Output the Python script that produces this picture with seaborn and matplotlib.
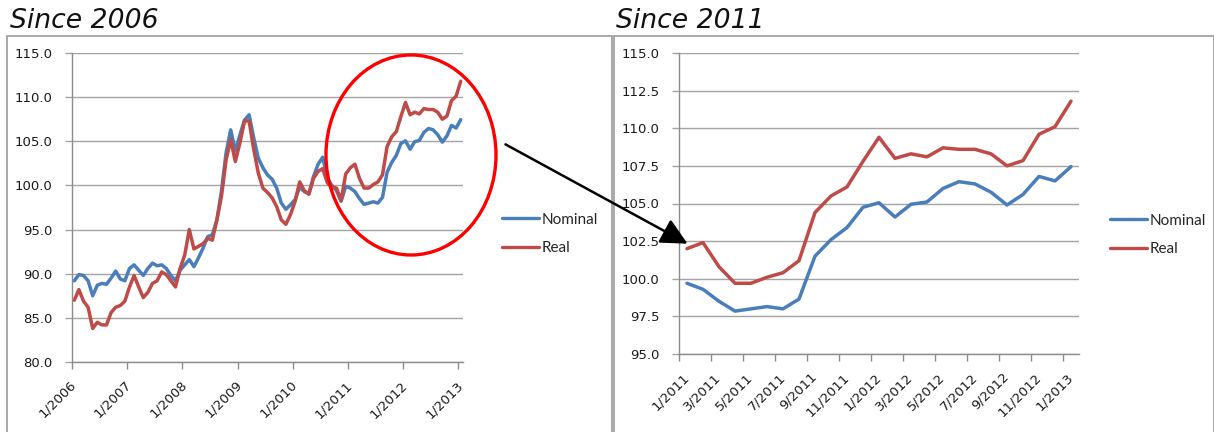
import matplotlib
matplotlib.use("Agg")
import matplotlib.pyplot as plt
from matplotlib.lines import Line2D
from matplotlib.patches import Ellipse, Rectangle, FancyArrowPatch
import numpy as np
import pandas as pd
import seaborn as sns

# Monthly index values, 1/2006 .. 1/2013
nominal = [
    89.2, 89.9, 89.8, 89.2, 87.5, 88.7, 88.9, 88.8, 89.5, 90.3, 89.4, 89.2,
    90.6, 91.0, 90.4, 89.8, 90.6, 91.2, 90.9, 91.0, 90.6, 89.8, 89.2, 90.4,
    91.0, 91.6, 90.8, 91.8, 92.9, 94.2, 94.4, 96.1, 99.4, 103.7, 106.3, 103.9,
    105.7, 107.4, 108.0, 105.4, 103.1, 102.0, 101.2, 100.7, 99.7, 98.0, 97.3, 97.8,
    98.4, 99.8, 99.3, 99.1, 101.0, 102.4, 103.2, 100.8, 100.0, 99.4, 98.2, 99.9,
    99.7, 99.3, 98.5, 97.85, 98.0, 98.15, 98.0, 98.65, 101.5, 102.6, 103.4, 104.75,
    105.05, 104.1, 104.95, 105.1, 106.0, 106.45, 106.3, 105.75, 104.9, 105.6, 106.8, 106.5,
    107.45,
]
real = [
    87.0, 88.2, 86.9, 86.2, 83.8, 84.5, 84.2, 84.2, 85.6, 86.2, 86.4, 86.9,
    88.5, 89.8, 88.5, 87.3, 87.9, 88.9, 89.2, 90.2, 89.9, 89.2, 88.5, 90.6,
    92.1, 95.0, 92.8, 93.1, 93.4, 94.0, 93.8, 96.1, 98.8, 102.9, 105.2, 102.7,
    104.8, 107.3, 107.3, 104.1, 101.4, 99.7, 99.2, 98.6, 97.6, 96.1, 95.6, 96.7,
    98.2, 100.4, 99.4, 99.0, 100.8, 101.6, 101.9, 100.3, 99.8, 99.7, 98.3, 101.3,
    102.0, 102.4, 100.8, 99.7, 99.7, 100.1, 100.4, 101.2, 104.4, 105.5, 106.1, 107.8,
    109.4, 108.0, 108.3, 108.1, 108.7, 108.6, 108.6, 108.3, 107.5, 107.85, 109.6, 110.1,
    111.8,
]
start_2011 = 60  # 1/2011 is the 61st month

labels_2006 = ["1/2006", "1/2007", "1/2008", "1/2009", "1/2010", "1/2011", "1/2012", "1/2013"]
labels_2011 = ["1/2011", "3/2011", "5/2011", "7/2011", "9/2011", "11/2011", "1/2012",
               "3/2012", "5/2012", "7/2012", "9/2012", "11/2012", "1/2013"]
series_names = ["Nominal", "Real"]
colors = {"Nominal": "#4a7ebb", "Real": "#be4b48"}

sns.set_theme(style="white")
plt.rcParams["font.family"] = ["DejaVu Sans"]

W, H = 1214, 432
fig = plt.figure(figsize=(W / 100, H / 100), dpi=100)
fig.patch.set_facecolor("white")


def fx(px):
    return px / W


def fy(py):
    return 1 - py / H


def long_frame(nom, rea):
    n = len(nom)
    return pd.DataFrame({
        "month": list(range(n)) * 2,
        "value": list(nom) + list(rea),
        "series": ["Nominal"] * n + ["Real"] * n,
    })


def style_axes(ax, n, yticks, tick_every, labels):
    ax.set_facecolor("none")
    ax.set_xlim(-0.5, n - 0.5)
    ax.set_ylim(yticks[0], yticks[-1])
    ax.set_yticks(yticks)
    ax.set_yticklabels([f"{v:.1f}" for v in yticks])
    ax.yaxis.grid(True, color="#a3a3a3", lw=1.0)
    ax.xaxis.grid(False)
    ax.set_axisbelow(True)
    for s in ["top", "right"]:
        ax.spines[s].set_visible(False)
    for s in ["left", "bottom"]:
        ax.spines[s].set_color("#8c8c8c")
        ax.spines[s].set_linewidth(1.0)
    bounds = np.arange(-0.5, n - 0.5, tick_every)
    ax.set_xticks(bounds)
    ax.set_xticklabels([""] * len(bounds))
    centers = np.arange(0, n, tick_every)
    ax.set_xticks(centers, minor=True)
    ax.set_xticklabels(labels, minor=True, rotation=45, ha="right", va="center",
                       rotation_mode="anchor", fontsize=9.5, color="#1a1a1a")
    ax.tick_params(axis="x", which="major", direction="out", length=5, width=1,
                   color="#8c8c8c", bottom=True)
    ax.tick_params(axis="x", which="minor", length=0, pad=15, bottom=True)
    ax.tick_params(axis="y", direction="out", length=5, width=1, color="#a3a3a3",
                   labelsize=9.5, labelcolor="#1a1a1a", pad=9, left=True)
    ax.set_xlabel("")
    ax.set_ylabel("")


def add_legend(ax, x_px, y_px):
    handles = [Line2D([0], [0], color=colors[s], lw=2.4) for s in series_names]
    ax.legend(handles, series_names, loc="center left",
              bbox_to_anchor=(fx(x_px), fy(y_px)), bbox_transform=fig.transFigure,
              frameon=False, borderpad=0, borderaxespad=0, handlelength=2.4,
              handletextpad=0.2, labelspacing=0.95,
              prop={"family": "Lato", "size": 11})


# Left panel: since 2006
ax1 = fig.add_axes([fx(72), fy(362), fx(463 - 72), (362 - 53) / H])
sns.lineplot(data=long_frame(nominal, real), x="month", y="value", hue="series",
             palette=colors, hue_order=series_names, linewidth=2.5, ax=ax1, legend=False)
style_axes(ax1, len(nominal), np.arange(80, 115.1, 5), 12, labels_2006)
add_legend(ax1, 502, 234)

# Right panel: since 2011
nom_11 = nominal[start_2011:]
real_11 = real[start_2011:]
ax2 = fig.add_axes([fx(679), fy(354), fx(1079 - 679), (354 - 53) / H])
sns.lineplot(data=long_frame(nom_11, real_11), x="month", y="value", hue="series",
             palette=colors, hue_order=series_names, linewidth=2.5, ax=ax2, legend=False)
style_axes(ax2, len(nom_11), np.arange(95, 115.1, 2.5), 2, labels_2011)
add_legend(ax2, 1110, 235)

# Panel frames
for x0, x1 in [(7, 612), (614, 1214)]:
    fig.add_artist(Rectangle((fx(x0), -0.05), fx(x1 - x0), fy(36) + 0.05,
                             transform=fig.transFigure, fill=False,
                             ec="#9a9a9a", lw=1.2, zorder=-5))

# Panel titles
fig.text(fx(10), fy(28), "Since 2006", fontsize=19.2, style="italic", va="baseline",
         color="#111111")
fig.text(fx(616), fy(28), "Since 2011", fontsize=19.2, style="italic", va="baseline",
         color="#111111")

# Highlight of the recent period and pointer to the zoomed panel
fig.add_artist(Ellipse((fx(411), fy(155)), fx(170), 200 / H, transform=fig.transFigure,
                       fill=False, ec="#ff0000", lw=2.4, zorder=5))
fig.add_artist(FancyArrowPatch((fx(503), fy(143)), (fx(690), fy(245)),
                               transform=fig.transFigure,
                               arrowstyle="-|>,head_length=0.9,head_width=0.45",
                               mutation_scale=18, color="black", lw=1.8, zorder=6))

fig.savefig("out.png", dpi=100)
